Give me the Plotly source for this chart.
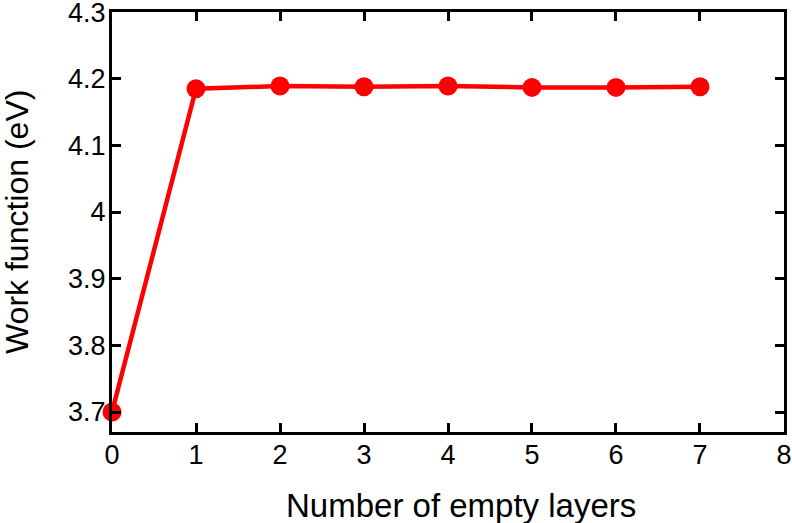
import plotly.graph_objects as go

layers = [0, 1, 2, 3, 4, 5, 6, 7]
work_function = [3.700, 4.185, 4.189, 4.188, 4.189, 4.187, 4.187, 4.188]
x_ticks = [0, 1, 2, 3, 4, 5, 6, 7, 8]
y_ticks = [3.7, 3.8, 3.9, 4.0, 4.1, 4.2, 4.3]
y_tick_labels = ["3.7", "3.8", "3.9", "4", "4.1", "4.2", "4.3"]
x_title = "Number of empty layers"
y_title = "Work function (eV)"

FONT = "Liberation Sans, Arial, sans-serif"

fig = go.Figure()
fig.add_trace(go.Scatter(
    x=layers, y=work_function, mode="lines+markers",
    line=dict(color="#ff0000", width=4.5),
    marker=dict(color="#ff0000", size=19),
    showlegend=False, cliponaxis=False,
))

axis_common = dict(
    showline=True, linecolor="black", linewidth=3, mirror="allticks",
    ticks="inside", ticklen=9, tickwidth=3, tickcolor="black",
    showgrid=False, zeroline=False, automargin=False,
    ticklabeloverflow="allow",
    tickfont=dict(family=FONT, size=27, color="black"),
)
fig.update_xaxes(range=[0, 8.0001], tickvals=x_ticks, ticklabelstandoff=-3, **axis_common)
fig.update_yaxes(range=[3.67, 4.3001], tickvals=y_ticks, ticktext=y_tick_labels,
                 ticklabelstandoff=-2, **axis_common)

fig.add_annotation(text=x_title, xref="paper", yref="paper", x=0.5, y=0,
                   xanchor="center", yanchor="middle", xshift=13, yshift=-73,
                   showarrow=False, font=dict(family=FONT, size=33, color="black"))
fig.add_annotation(text=y_title, xref="paper", yref="paper", x=0, y=0.5,
                   xanchor="center", yanchor="middle", xshift=-95, textangle=-90,
                   showarrow=False, font=dict(family=FONT, size=32, color="black"))

fig.update_layout(
    width=792, height=523,
    margin=dict(l=112, r=8, t=12, b=91),
    paper_bgcolor="white", plot_bgcolor="white",
)
fig.write_html("out.html", config={"displayModeBar": False},
               post_script="document.body.style.margin='0';")
